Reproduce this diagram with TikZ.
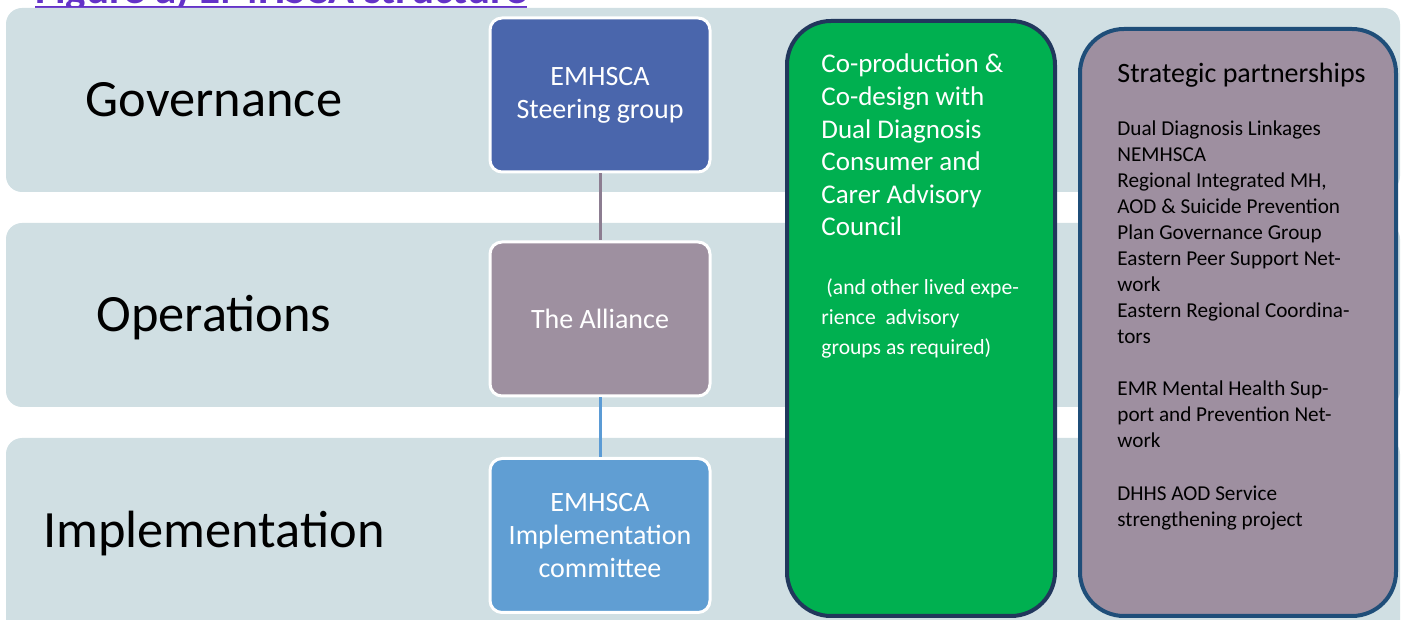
\documentclass[tikz,border=0pt]{standalone}
\usepackage{fontspec}
\setmainfont{Carlito}
\usetikzlibrary{calc}

\definecolor{bandgrey}{RGB}{208,223,227}
\definecolor{titlepurple}{RGB}{100,50,200}
\definecolor{steerblue}{RGB}{74,102,172}
\definecolor{alliancemauve}{RGB}{158,144,160}
\definecolor{implblue}{RGB}{96,158,211}
\definecolor{linkmauve}{RGB}{140,125,145}
\definecolor{linkblue}{RGB}{91,155,213}
\definecolor{codgreen}{RGB}{0,176,80}
\definecolor{codnavy}{RGB}{33,55,92}
\definecolor{partmauve}{RGB}{158,143,160}
\definecolor{partblue}{RGB}{31,78,121}

\tikzset{
	band/.style={fill=bandgrey, rounded corners=8pt},
	level/.style={anchor=base, inner sep=0pt, font=\fontsize{26.2}{30}\selectfont},
	unit/.style={draw=white, line width=1.5pt, fill=#1, rounded corners=6pt,
		minimum width=110pt, minimum height=77pt, text=white, align=center,
		inner sep=0pt, font=\fontsize{14}{16.5}\selectfont},
	panel/.style 2 args={draw=#2, line width=2pt, fill=#1, rounded corners=22pt, inner sep=0pt},
	textline/.style={anchor=base west, inner sep=0pt},
}

\begin{document}
\begin{tikzpicture}[x=0.5pt,y=-0.5pt]
		%%%%% START %%%%%
		\useasboundingbox (0,0) rectangle (1405,620);
		\clip (0,0) rectangle (1405,620);
		
		\node[textline, text=titlepurple, font=\bfseries\fontsize{21.5}{24}\selectfont] (fig) at (35,4) {Figure a) EMHSCA structure};
		\draw[titlepurple, line width=0.8pt] ($(fig.base west)+(0,3)$) -- ($(fig.base east)+(0,3)$);
		
		\fill[band] (6,8) rectangle (1400,192);
		\fill[band] (6,223) rectangle (1400,407);
		\fill[band] (6,438) rectangle (1400,660);
		
		\node[level] (gov) at (214,117) {Governance};
		\node[level] (ops) at (214,332) {Operations};
		\node[level] (impl) at (214,547) {Implementation};
		
		\node[unit=steerblue] (steer) at (600,95) {EMHSCA\\Steering group};
		\node[unit=alliancemauve] (alliance) at (600,319) {The Alliance};
		\node[unit=implblue] (implcom) at (600,535.5) {EMHSCA\\Implementation\\committee};
		\draw[line width=1.5pt, linkmauve] (steer) -- (alliance);
		\draw[line width=1.5pt, linkblue] (alliance) -- (implcom);
		
		\node[panel={codgreen}{codnavy}, minimum width=134pt, minimum height=297.5pt] (council) at (921,318.5) {};
		\node[panel={partmauve}{partblue}, minimum width=158pt, minimum height=293.5pt] (partners) at (1238,322.5) {};
		
		\foreach \t [count=\i from 0] in {Co-production \&, Co-design with, Dual Diagnosis, Consumer and, Carer Advisory, Council}
			\node[textline, text=white, font=\fontsize{13.5}{16}\selectfont] (cod\i) at (821,73+32.6*\i) {\t};
		\foreach \t/\x/\y [count=\i] in {{(and other lived expe-}/826/295, {rience~ advisory}/821/325, {groups as required)}/821/355}
			\node[textline, text=white, font=\fontsize{10.8}{13}\selectfont] (lived\i) at (\x,\y) {\t};
		
		\node[textline, font=\fontsize{14}{16}\selectfont] (strat) at (1117,83) {Strategic partnerships};
		\foreach \t/\y [count=\i] in {{Dual Diagnosis Linkages}/136, NEMHSCA/162, {Regional Integrated MH,}/188,
				{AOD \& Suicide Prevention}/214, {Plan Governance Group}/240, {Eastern Peer Support Net-}/266,
				work/292, {Eastern Regional Coordina-}/318, tors/344,
				{EMR Mental Health Sup-}/396, {port and Prevention Net-}/422, work/448,
				{DHHS AOD Service}/501, {strengthening project}/527}
			\node[textline, font=\fontsize{10.6}{13}\selectfont] (part\i) at (1117,\y) {\t};
		
		%%%%% END %%%%%
\end{tikzpicture}
\end{document}
